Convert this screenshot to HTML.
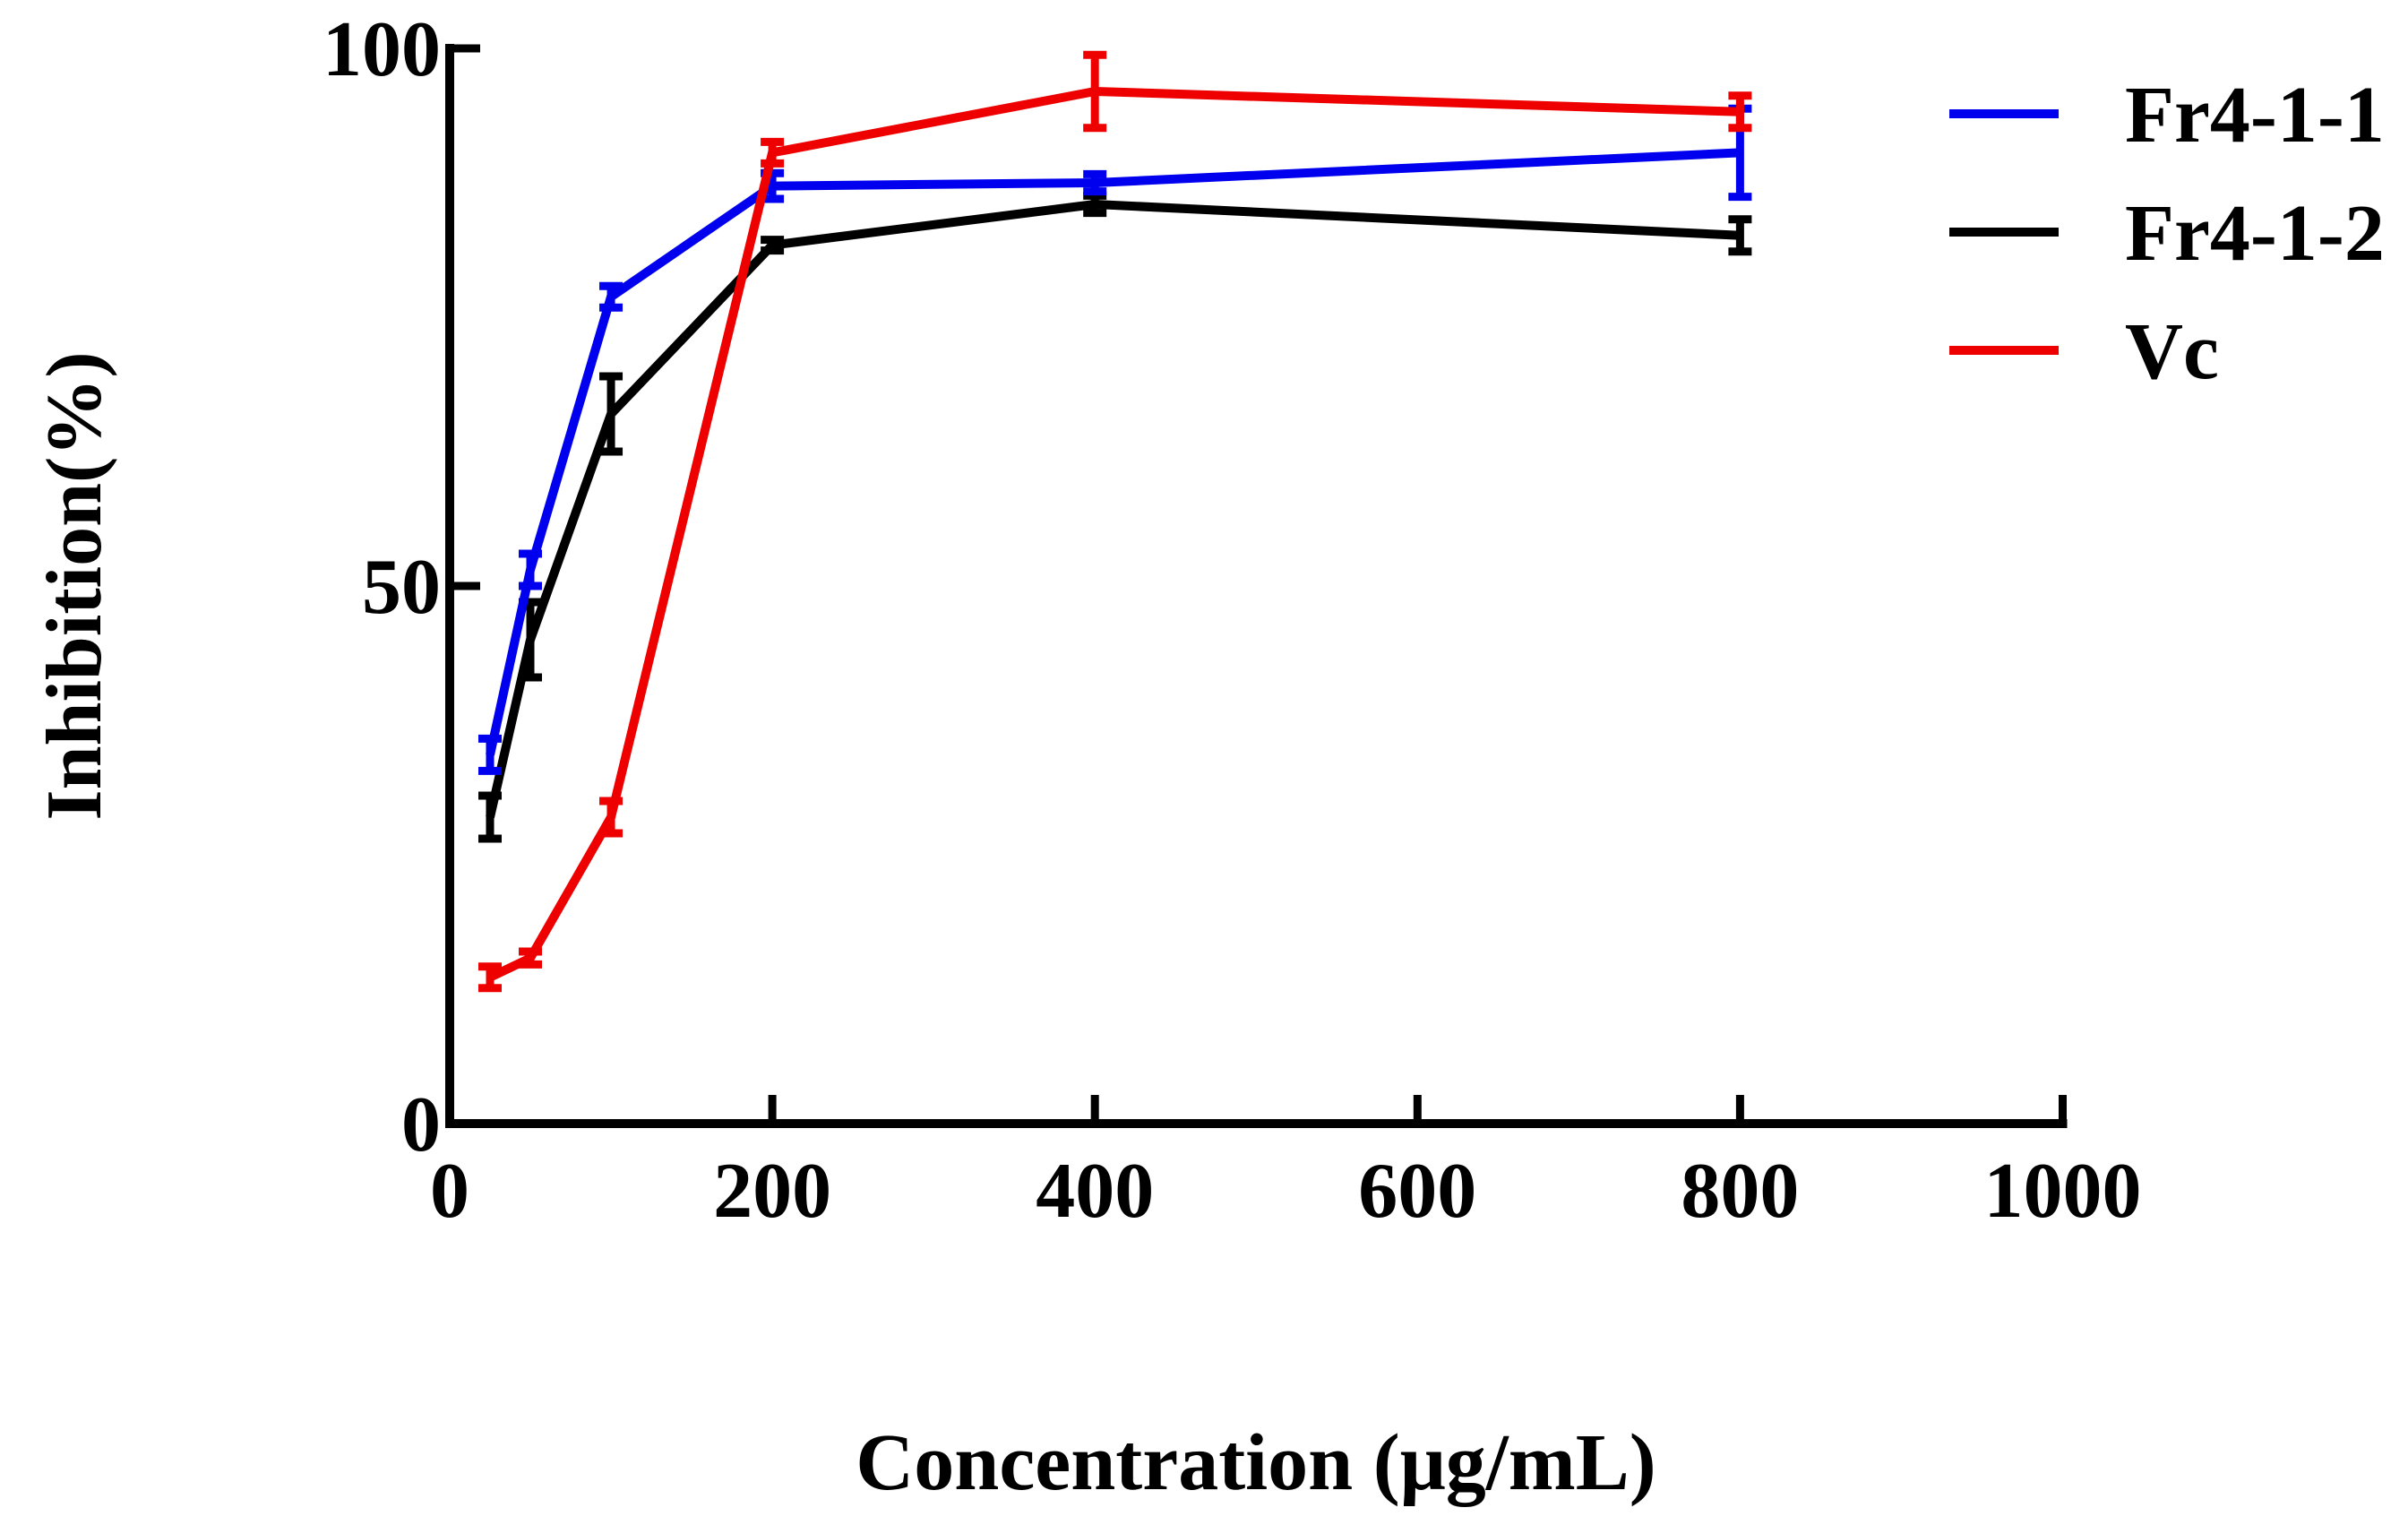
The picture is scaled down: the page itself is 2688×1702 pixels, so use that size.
<!DOCTYPE html>
<html><head><meta charset="utf-8"><style>
html,body{margin:0;padding:0;background:#fff}
svg{display:block}
text{font-family:"Liberation Serif",serif;font-weight:bold;fill:#000}
</style></head><body>
<svg id="chart" width="2688" height="1702" viewBox="0 0 2688 1702">
<g id="axes"></g>
<g id="series"></g>
<g id="legend"></g>
<text x="1402" y="1662" font-size="90" text-anchor="middle">Concentration (μg/mL)</text>
<text transform="translate(112,654) rotate(-90)" font-size="88" text-anchor="middle">Inhibition(%)</text>
</svg>
<script>
const concentrations = [25, 50, 100, 200, 400, 800];
const fr411Values = [34.3, 51.5, 76.9, 87.2, 87.5, 90.3];
const fr411Errors = [1.5, 1.5, 1, 1.2, 0.8, 4.1];
const fr412Values = [28.5, 45, 66, 81.7, 85.5, 82.6];
const fr412Errors = [2, 3.5, 3.5, 0.5, 0.8, 1.5];
const vcValues = [13.6, 15.4, 28.5, 90.3, 96, 94.1];
const vcErrors = [1, 0.6, 1.5, 1, 3.4, 1.5];
const xTicks = [0, 200, 400, 600, 800, 1000];
const yTicks = [0, 50, 100];
const seriesNames = ["Fr4-1-1", "Fr4-1-2", "Vc"];
const seriesColors = ["#0000ee", "#000000", "#ee0000"];

const NS = "http://www.w3.org/2000/svg";
const X0 = 502, XPX = 1.8005, Y0 = 1254, YPX = 12;
function xs(v){ return X0 + v * XPX; }
function ys(v){ return Y0 - v * YPX; }
function mk(tag, attrs, parent){
  const e = document.createElementNS(NS, tag);
  for (const k in attrs) e.setAttribute(k, attrs[k]);
  parent.appendChild(e);
  return e;
}
const axes = document.getElementById('axes');
let el = mk('line', {x1: xs(0), y1: ys(0), x2: xs(1000)+5, y2: ys(0), stroke: '#000', 'stroke-width': 10}, axes);


el = mk('line', {x1: xs(0), y1: ys(100)-5, x2: xs(0), y2: ys(0)+5, stroke: '#000', 'stroke-width': 10}, axes);


xTicks.forEach(t => {
  const tk = mk('line', {x1: xs(t), y1: ys(0), x2: xs(t), y2: ys(0)-32, stroke: '#000', 'stroke-width': 9}, axes);
  
  
  const lb = mk('text', {x: xs(t), y: ys(0)+104, 'font-size': 88, 'text-anchor': 'middle'}, axes);
  lb.textContent = t;
  
  
});
yTicks.forEach(t => {
  const tk = mk('line', {x1: xs(0), y1: ys(t), x2: xs(0)+34, y2: ys(t), stroke: '#000', 'stroke-width': 9}, axes);
  
  
  const lb = mk('text', {x: xs(0)-10, y: ys(t)+30, 'font-size': 88, 'text-anchor': 'end'}, axes);
  lb.textContent = t;
  
  
});
const seriesG = document.getElementById('series');
const allVals = [fr411Values, fr412Values, vcValues];
const allErrs = [fr411Errors, fr412Errors, vcErrors];
[1, 0, 2].forEach(i => {
  const g = mk('g', {}, seriesG);
  
  
  const pts = concentrations.map((c, j) => xs(c) + ',' + ys(allVals[i][j])).join(' ');
  const pl = mk('polyline', {points: pts, fill: 'none', stroke: seriesColors[i], 'stroke-width': 10, 'stroke-linejoin': 'round'}, g);
  
  
  concentrations.forEach((c, j) => {
    const x = xs(c), yh = ys(allVals[i][j] + allErrs[i][j]), yl = ys(allVals[i][j] - allErrs[i][j]);
    const eb = mk('path', {d: `M${x},${yh}V${yl}M${x-13},${yh}H${x+13}M${x-13},${yl}H${x+13}`, stroke: seriesColors[i], 'stroke-width': 9, fill: 'none'}, g);
    
    
  });
});
const legend = document.getElementById('legend');
seriesNames.forEach((n, i) => {
  const y = 127 + i * 132;
  const g = mk('g', {}, legend);
  
  
  mk('line', {x1: 2176, y1: y, x2: 2298, y2: y, stroke: seriesColors[i], 'stroke-width': 10}, g);
  const t = mk('text', {x: 2372, y: y + 31, 'font-size': 90}, g);
  t.textContent = n;
});
</script>
</body></html>
